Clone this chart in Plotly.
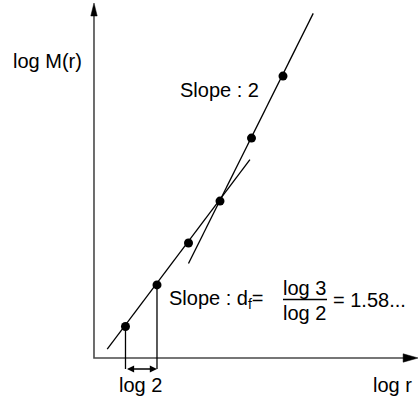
import plotly.graph_objects as go

# ---- data (schematic units: log r, log M(r)) ----
log_r = [1, 2, 3, 4, 5, 6]
log_M = [1.0, 2.32, 3.65, 4.98, 6.98, 8.95]

fit_df_x = [0.42, 4.95]          # lower fit, slope d_f
fit_df_y = [0.28, 6.30]
fit_2_x = [3.0, 6.96]            # upper fit, slope 2
fit_2_y = [3.0, 10.94]

x_axis_end = 10.29
y_axis_end = 11.27
step_left, step_right = 1, 2     # the "log 2" interval
bracket_y = -0.35

x_range = [-2.984, 10.286]
y_range = [-1.302, 11.365]

FONT = "Liberation Sans, Arial, Helvetica, sans-serif"
AX_COL = "#4a4a4a"

fig = go.Figure()

# axes
fig.add_trace(go.Scatter(x=[0, 0, x_axis_end - 0.3], y=[y_axis_end - 0.3, 0, 0], mode="lines",
                         line=dict(color=AX_COL, width=1.6), hoverinfo="skip"))
# fit lines
fig.add_trace(go.Scatter(x=fit_df_x, y=fit_df_y, mode="lines",
                         line=dict(color="black", width=1.3), hoverinfo="skip"))
fig.add_trace(go.Scatter(x=fit_2_x, y=fit_2_y, mode="lines",
                         line=dict(color="black", width=1.3), hoverinfo="skip"))
# drop lines for log 2 interval
fig.add_trace(go.Scatter(x=[step_left, step_left, None, step_right, step_right],
                         y=[log_M[0], bracket_y, None, log_M[1], bracket_y], mode="lines",
                         line=dict(color="black", width=1.3), hoverinfo="skip"))
# points
fig.add_trace(go.Scatter(x=log_r, y=log_M, mode="markers",
                         marker=dict(color="black", size=9), hoverinfo="skip"))

# arrowheads as filled paths (converted from px to data units)
u = 31.5
ya_len, ya_hw = 13 / u, 3.2 / u
xa_len, xa_hw = 15 / u, 4.2 / u
shapes = [
    dict(type="path", xref="x", yref="y",
         path=f"M {-ya_hw},{y_axis_end - ya_len} L 0,{y_axis_end} L {ya_hw},{y_axis_end - ya_len} Z",
         fillcolor="black", line=dict(color="black", width=0.5)),
    dict(type="path", xref="x", yref="y",
         path=f"M {x_axis_end - xa_len},{-xa_hw} L {x_axis_end},0 L {x_axis_end - xa_len},{xa_hw} Z",
         fillcolor="black", line=dict(color="black", width=0.5)),
    # fraction bar
    dict(type="line", xref="x", yref="y", x0=(283 - 94) / u, x1=(327 - 94) / u,
         y0=(358 - 299.5) / u, y1=(358 - 299.5) / u, line=dict(color="black", width=1.3)),
]

def P(px, py):
    return (px - 94) / u, (358 - py) / u

ann = []
def text(s, px, py, xanchor="center"):
    x, y = P(px, py)
    ann.append(dict(x=x, y=y, xref="x", yref="y", text=s, showarrow=False,
                    xanchor=xanchor, yanchor="middle",
                    font=dict(family=FONT, size=20, color="black")))

text("log M(r)", 47, 61)
text("Slope : 2", 220, 90)
text("Slope : d<sub>f</sub>=", 167, 300, "left")
text("log 3", 305, 288)
text("log 2", 305, 313)
text("= 1.58...", 331, 300, "left")
text("log 2", 141, 385)
text("log r", 393, 385)

# double arrow for the log 2 interval
ann.append(dict(x=step_right, y=bracket_y, ax=step_left, ay=bracket_y, xref="x", yref="y",
                axref="x", ayref="y", text="", showarrow=True, arrowside="end+start",
                arrowhead=2, startarrowhead=2, arrowsize=1.1, startarrowsize=1.1,
                arrowwidth=1.3, arrowcolor="black"))

fig.update_layout(
    width=418, height=399, margin=dict(l=0, r=0, t=0, b=0),
    paper_bgcolor="white", plot_bgcolor="white", showlegend=False,
    xaxis=dict(range=x_range, visible=False, fixedrange=True),
    yaxis=dict(range=y_range, visible=False, fixedrange=True),
    shapes=shapes, annotations=ann,
)

fig.write_html("out.html")
